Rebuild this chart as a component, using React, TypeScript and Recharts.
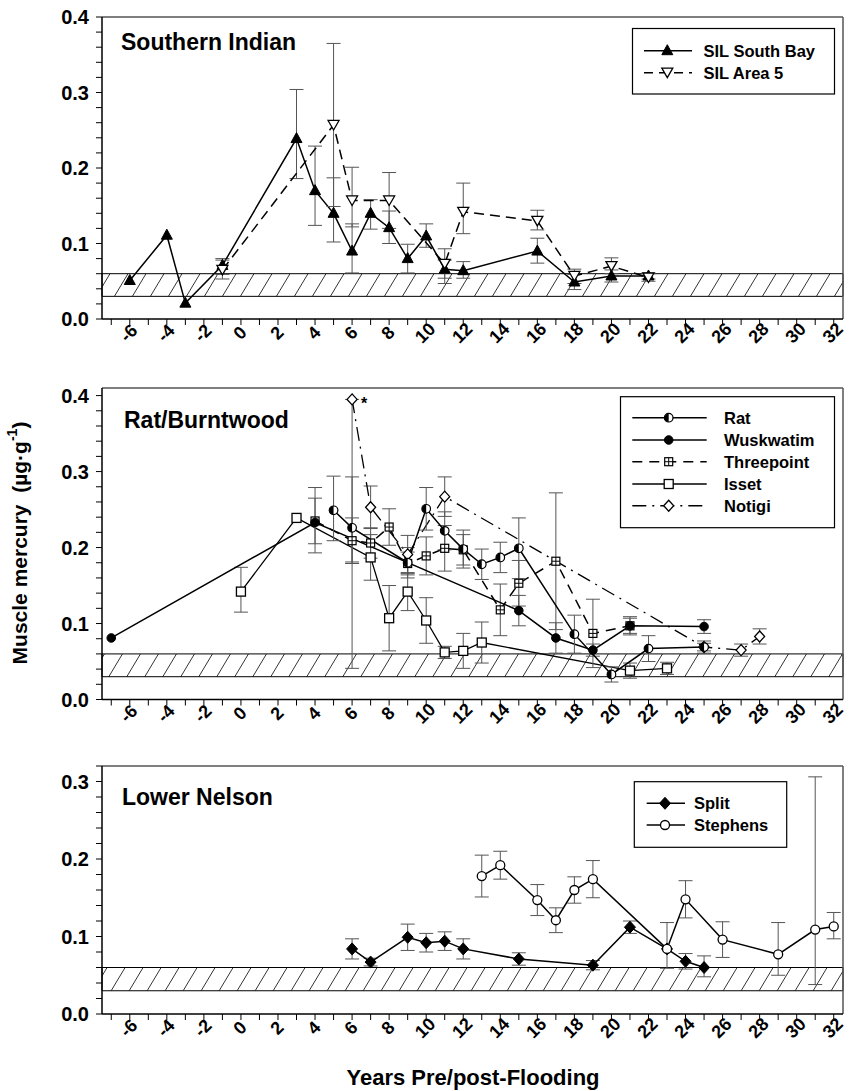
import React from 'react'
import {
  LineChart,
  Line,
  XAxis,
  YAxis,
  ErrorBar,
  ReferenceArea,
  ReferenceLine
} from 'recharts'

const FONT = '"Liberation Sans", Arial, Helvetica, sans-serif'

// x axis: years pre/post flooding
const yearTicks = [-7, -6, -5, -4, -3, -2, -1, 0, 1, 2, 3, 4, 5, 6, 7, 8, 9, 10, 11, 12, 13, 14, 15, 16, 17, 18, 19, 20, 21, 22, 23, 24, 25, 26, 27, 28, 29, 30, 31, 32]
const yearLabels = [-6, -4, -2, 0, 2, 4, 6, 8, 10, 12, 14, 16, 18, 20, 22, 24, 26, 28, 30, 32]
const yLabels = ['0.0', '0.1', '0.2', '0.3', '0.4']

// Southern Indian
const southBayYears = [-6, -4, -3, -1, 3, 4, 5, 6, 7, 8, 9, 10, 11, 12, 16, 18, 20, 22]
const southBayHg = [0.051, 0.111, 0.021, 0.071, 0.239, 0.17, 0.14, 0.09, 0.14, 0.121, 0.08, 0.11, 0.066, 0.064, 0.09, 0.049, 0.057, 0.057]
const southBayErr = [null, null, null, [0.012, 0.009], [0.053, 0.065], [0.046, 0.059], [0.038, 0.047], [0.029, 0.036], [0.021, 0.018], [0.021, 0.022], [0.019, 0.019], [0.015, 0.016], [0.012, 0.012], [0.01, 0.012], [0.016, 0.017], [0.01, 0.01], [0.008, 0.008], [0.004, 0.004]]

const area5Years = [-1, 5, 6, 8, 11, 12, 16, 18, 20, 22]
const area5Hg = [0.065, 0.257, 0.157, 0.157, 0.073, 0.142, 0.13, 0.057, 0.07, 0.055]
const area5Err = [[0.012, 0.013], [0.108, 0.108], [0.035, 0.044], [0.037, 0.037], [0.026, 0.02], [0.029, 0.038], [0.012, 0.014], [0.01, 0.009], [0.01, 0.011], [0.005, 0.005]]

// Rat/Burntwood
const ratYears = [5, 6, 9, 10, 11, 12, 13, 14, 15, 18, 20, 22, 25]
const ratHg = [0.249, 0.226, 0.18, 0.251, 0.222, 0.198, 0.178, 0.187, 0.199, 0.086, 0.033, 0.067, 0.069]
const ratErr = [[0.04, 0.045], [0.045, 0.067], [0.02, 0.02], [0.028, 0.028], [0.025, 0.025], [0.025, 0.025], [0.02, 0.02], [0.02, 0.02], [0.04, 0.04], [0.025, 0.025], [0.01, 0.01], [0.017, 0.017], [0.005, 0.005]]

const wuskYears = [-7, 4, 15, 17, 19, 21, 25]
const wuskHg = [0.081, 0.233, 0.117, 0.081, 0.065, 0.097, 0.096]
const wuskErr = [null, [0.04, 0.046], [0.02, 0.02], [0.02, 0.02], [0.008, 0.008], [0.01, 0.01], [0.009, 0.009]]

const threeYears = [4, 6, 7, 8, 9, 10, 11, 12, 14, 15, 17, 19, 21]
const threeHg = [0.235, 0.209, 0.206, 0.227, 0.179, 0.189, 0.199, 0.197, 0.118, 0.153, 0.182, 0.087, 0.097]
const threeErr = [[0.03, 0.03], [0.03, 0.03], [0.02, 0.02], [0.024, 0.024], [0.015, 0.015], [0.025, 0.025], [0.03, 0.03], [0.02, 0.02], [0.034, 0.034], [0.03, 0.03], [0.09, 0.09], [0.045, 0.045], [0.012, 0.012]]

const issetYears = [0, 3, 7, 8, 9, 10, 11, 12, 13, 21, 23]
const issetHg = [0.142, 0.239, 0.187, 0.107, 0.142, 0.104, 0.062, 0.064, 0.075, 0.038, 0.041]
const issetErr = [[0.027, 0.032], null, [0.03, 0.03], [0.043, 0.043], [0.025, 0.025], [0.03, 0.03], [0.008, 0.008], [0.023, 0.023], [0.027, 0.027], [0.01, 0.01], [0.008, 0.008]]

const notigiYears = [6, 7, 9, 11, 25, 27, 28]
const notigiHg = [0.395, 0.253, 0.191, 0.267, 0.069, 0.065, 0.083]
const notigiErr = [[0.354, 0], [0.028, 0.028], [0.025, 0.025], [0.026, 0.026], [0.008, 0.008], [0.008, 0.008], [0.01, 0.01]]
const notigiNotes = ['*', '', '', '', '', '', '']

// Lower Nelson
const splitYears = [6, 7, 9, 10, 11, 12, 15, 19, 21, 23, 24, 25]
const splitHg = [0.084, 0.067, 0.099, 0.092, 0.094, 0.084, 0.071, 0.063, 0.112, 0.084, 0.068, 0.06]
const splitErr = [[0.013, 0.013], [0.005, 0.005], [0.017, 0.017], [0.012, 0.012], [0.012, 0.012], [0.013, 0.013], [0.008, 0.008], [0.006, 0.006], [0.008, 0.008], null, [0.01, 0.01], [0.012, 0.015]]

const stephensYears = [13, 14, 16, 17, 18, 19, 23, 24, 26, 29, 31, 32]
const stephensHg = [0.178, 0.192, 0.147, 0.121, 0.16, 0.174, 0.084, 0.148, 0.096, 0.077, 0.109, 0.113]
const stephensErr = [[0.027, 0.027], [0.018, 0.018], [0.02, 0.02], [0.016, 0.016], [0.017, 0.017], [0.024, 0.024], [0.025, 0.034], [0.024, 0.024], [0.023, 0.023], [0.027, 0.041], [0.071, 0.197], [0.016, 0.018]]

const toRows = (xs: number[], ys: number[], errs: any[]) =>
  xs.map((x, i) => ({ x, y: ys[i], err: errs[i] }))

// ---- marker shapes ----
const triUp = (cx: number, cy: number) => (
  <path d={`M${cx},${cy - 6} L${cx + 5.5},${cy + 4} L${cx - 5.5},${cy + 4} Z`} fill="#000" stroke="#000" strokeWidth={1} />
)
const triDown = (cx: number, cy: number) => (
  <path d={`M${cx},${cy + 5} L${cx + 5.5},${cy - 4.5} L${cx - 5.5},${cy - 4.5} Z`} fill="#fff" stroke="#000" strokeWidth={1.3} />
)
const dotFilled = (cx: number, cy: number) => <circle cx={cx} cy={cy} r={4.3} fill="#000" stroke="#000" />
const dotOpen = (cx: number, cy: number) => <circle cx={cx} cy={cy} r={4.5} fill="#fff" stroke="#000" strokeWidth={1.3} />
const dotHalf = (cx: number, cy: number) => (
  <g>
    <circle cx={cx} cy={cy} r={4.3} fill="#fff" stroke="#000" strokeWidth={1.2} />
    <path d={`M${cx},${cy - 4.3} A4.3,4.3 0 0,0 ${cx},${cy + 4.3} Z`} fill="#000" />
  </g>
)
const squareOpen = (cx: number, cy: number) => (
  <rect x={cx - 4.5} y={cy - 4.5} width={9} height={9} fill="#fff" stroke="#000" strokeWidth={1.3} />
)
const squarePlus = (cx: number, cy: number) => (
  <g>
    <rect x={cx - 4} y={cy - 4} width={8} height={8} fill="#fff" stroke="#000" strokeWidth={1.2} />
    <path d={`M${cx - 4},${cy} H${cx + 4} M${cx},${cy - 4} V${cy + 4}`} stroke="#000" strokeWidth={1} />
  </g>
)
const diamondOpen = (cx: number, cy: number) => (
  <path d={`M${cx},${cy - 5.5} L${cx + 5},${cy} L${cx},${cy + 5.5} L${cx - 5},${cy} Z`} fill="#fff" stroke="#000" strokeWidth={1.3} />
)
const diamondFilled = (cx: number, cy: number) => (
  <path d={`M${cx},${cy - 6} L${cx + 5.5},${cy} L${cx},${cy + 6} L${cx - 5.5},${cy} Z`} fill="#000" stroke="#000" />
)

const asDot = (shape: (cx: number, cy: number) => any) => (p: any) => (
  <g key={`dot-${p.index}`}>{p.cx == null ? null : shape(p.cx, p.cy)}</g>
)

type Series = {
  name: string
  rows: { x: number; y: number; err: any }[]
  shape: (cx: number, cy: number) => any
  dash?: string
  width?: number
  label?: any
}

const XTick = ({ x, y, payload }: any) => {
  const v = payload.value
  if (!yearLabels.includes(v)) return <g />
  const cx = x - 1
  const cy = y + 6
  return (
    <text
      x={cx}
      y={cy}
      transform={`rotate(-45 ${cx} ${cy})`}
      textAnchor="middle"
      dominantBaseline="central"
      fontFamily={FONT}
      fontWeight="bold"
      fontSize={18}
      fill="#000"
    >
      {v}
    </text>
  )
}

const YTick = ({ x, y, payload }: any) => {
  const v = payload.value
  const idx = Math.round(v * 10)
  if (Math.abs(v * 10 - idx) > 1e-6 || !yLabels[idx]) return <g />
  return (
    <text x={x - 5} y={y} textAnchor="end" dominantBaseline="central" fontFamily={FONT} fontWeight="bold" fontSize={20} fill="#000">
      {yLabels[idx]}
    </text>
  )
}

const minorTicks = (max: number) =>
  Array.from({ length: Math.floor(max / 0.02 + 1e-6) + 1 }, (_, i) => Math.round(i * 2) / 100)

function Panel({ top, plotH, yMax, series, id }: { top: number; plotH: number; yMax: number; series: Series[]; id: string }) {
  return (
    <div style={{ position: 'absolute', left: 0, top: top - 10 }}>
      <LineChart width={849} height={plotH + 60} margin={{ top: 10, right: 6, left: 42, bottom: 0 }}>
        <defs>
          <pattern id={id} patternUnits="userSpaceOnUse" width={18} height={30}>
            <path d="M0,30 L18,0 M-2,3.33 L2,-3.33 M16,33.33 L20,26.67" stroke="#000" strokeWidth={0.8} />
          </pattern>
        </defs>
        <XAxis
          type="number"
          dataKey="x"
          domain={[-7.5, 32.5]}
          ticks={yearTicks}
          interval={0}
          height={50}
          allowDataOverflow
          tick={<XTick />}
          tickSize={6}
          tickLine={{ stroke: '#000', strokeWidth: 1 }}
          axisLine={{ stroke: '#000', strokeWidth: 1.5 }}
        />
        <YAxis
          type="number"
          domain={[0, yMax]}
          ticks={minorTicks(yMax)}
          interval={0}
          width={60}
          allowDataOverflow
          tick={<YTick />}
          tickSize={6}
          tickLine={{ stroke: '#000', strokeWidth: 1 }}
          axisLine={{ stroke: '#000', strokeWidth: 1.5 }}
        />
        <ReferenceArea x1={-7.5} x2={32.5} y1={0.03} y2={0.06} fill={`url(#${id})`} fillOpacity={1} stroke="#000" strokeWidth={1} />
        <ReferenceLine y={yMax} stroke="#555" strokeWidth={1.5} />
        <ReferenceLine x={32.5} stroke="#555" strokeWidth={1.5} />
        {series.map((s) => (
          <Line
            key={s.name}
            name={s.name}
            data={s.rows}
            dataKey="y"
            type="linear"
            stroke="#000"
            strokeWidth={s.width ?? 1.5}
            strokeDasharray={s.dash}
            dot={asDot(s.shape)}
            activeDot={false}
            label={s.label}
            isAnimationActive={false}
          >
            <ErrorBar dataKey="err" width={7} stroke="#555" strokeWidth={1} isAnimationActive={false} />
          </Line>
        ))}
      </LineChart>
    </div>
  )
}

const starLabel = (p: any) =>
  notigiNotes[p.index] ? (
    <text key={`star-${p.index}`} x={p.x + 9} y={p.y + 10} fontFamily={FONT} fontWeight="bold" fontSize={16}>
      {notigiNotes[p.index]}
    </text>
  ) : (
    <g key={`star-${p.index}`} />
  )

const panel1: Series[] = [
  { name: 'SIL South Bay', rows: toRows(southBayYears, southBayHg, southBayErr), shape: triUp },
  { name: 'SIL Area 5', rows: toRows(area5Years, area5Hg, area5Err), shape: triDown, dash: '10 6' }
]

const panel2: Series[] = [
  { name: 'Isset', rows: toRows(issetYears, issetHg, issetErr), shape: squareOpen, width: 1.3 },
  { name: 'Threepoint', rows: toRows(threeYears, threeHg, threeErr), shape: squarePlus, dash: '10 7' },
  { name: 'Notigi', rows: toRows(notigiYears, notigiHg, notigiErr), shape: diamondOpen, dash: '14 6 2 6', width: 1.3, label: starLabel },
  { name: 'Wuskwatim', rows: toRows(wuskYears, wuskHg, wuskErr), shape: dotFilled },
  { name: 'Rat', rows: toRows(ratYears, ratHg, ratErr), shape: dotHalf }
]

const panel3: Series[] = [
  { name: 'Split', rows: toRows(splitYears, splitHg, splitErr), shape: diamondFilled },
  { name: 'Stephens', rows: toRows(stephensYears, stephensHg, stephensErr), shape: dotOpen }
]

type LegendRow = { label: string; shape: (cx: number, cy: number) => any; dash?: string }

function LegendBox({ x, y, w, h, rows, rowY, lineX, markX, textX }: { x: number; y: number; w: number; h: number; rows: LegendRow[]; rowY: number[]; lineX: [number, number]; markX: number; textX: number }) {
  return (
    <g>
      <rect x={x} y={y} width={w} height={h} fill="#fff" stroke="#000" strokeWidth={1.2} />
      {rows.map((r, i) => (
        <g key={r.label}>
          <line x1={lineX[0]} x2={lineX[1]} y1={rowY[i]} y2={rowY[i]} stroke="#000" strokeWidth={1.5} strokeDasharray={r.dash} />
          {r.shape(markX, rowY[i])}
          <text x={textX} y={rowY[i] + 6} fontFamily={FONT} fontWeight="bold" fontSize={16.5}>
            {r.label}
          </text>
        </g>
      ))}
    </g>
  )
}

export default function App() {
  return (
    <div style={{ position: 'absolute', left: 0, top: 0, width: 849, height: 1091, background: '#fff', fontFamily: FONT }}>
      <Panel top={17} plotH={302} yMax={0.4} series={panel1} id="hatch1" />
      <Panel top={387.5} plotH={311.5} yMax={0.41} series={panel2} id="hatch2" />
      <Panel top={766} plotH={248} yMax={0.32} series={panel3} id="hatch3" />
      <svg width={849} height={1091} style={{ position: 'absolute', left: 0, top: 0, pointerEvents: 'none' }}>
        <text x={121} y={50} fontFamily={FONT} fontWeight="bold" fontSize={23}>Southern Indian</text>
        <text x={124} y={428} fontFamily={FONT} fontWeight="bold" fontSize={23}>Rat/Burntwood</text>
        <text x={122} y={805} fontFamily={FONT} fontWeight="bold" fontSize={23}>Lower Nelson</text>
        <LegendBox
          x={632.5} y={28.5} w={202} h={65.5}
          rows={[
            { label: 'SIL South Bay', shape: triUp },
            { label: 'SIL Area 5', shape: triDown, dash: '9 6' }
          ]}
          rowY={[50.7, 72.7]} lineX={[644, 692]} markX={667.3} textX={703.5}
        />
        <LegendBox
          x={620.5} y={396.7} w={214} h={131}
          rows={[
            { label: 'Rat', shape: dotHalf },
            { label: 'Wuskwatim', shape: dotFilled },
            { label: 'Threepoint', shape: squarePlus, dash: '10 7' },
            { label: 'Isset', shape: squareOpen },
            { label: 'Notigi', shape: diamondOpen, dash: '14 6 2 6' }
          ]}
          rowY={[417.7, 440, 461.7, 484, 505.7]} lineX={[632.3, 706.7]} markX={668.7} textX={724}
        />
        <LegendBox
          x={634.3} y={781.7} w={152.4} h={65.6}
          rows={[
            { label: 'Split', shape: diamondFilled },
            { label: 'Stephens', shape: dotOpen }
          ]}
          rowY={[803.3, 825]} lineX={[646.7, 685]} markX={665} textX={694}
        />
        <text
          x={19}
          y={543}
          transform="rotate(-90 19 543)"
          textAnchor="middle"
          dominantBaseline="central"
          fontFamily={FONT}
          fontWeight="bold"
          fontSize={21}
        >
          Muscle mercury{'\u00a0\u00a0'}(µg·g<tspan dy={-7} fontSize={14}>-1</tspan><tspan dy={7}>)</tspan>
        </text>
        <text x={473} y={1085} textAnchor="middle" fontFamily={FONT} fontWeight="bold" fontSize={22}>
          Years Pre/post-Flooding
        </text>
      </svg>
    </div>
  )
}
